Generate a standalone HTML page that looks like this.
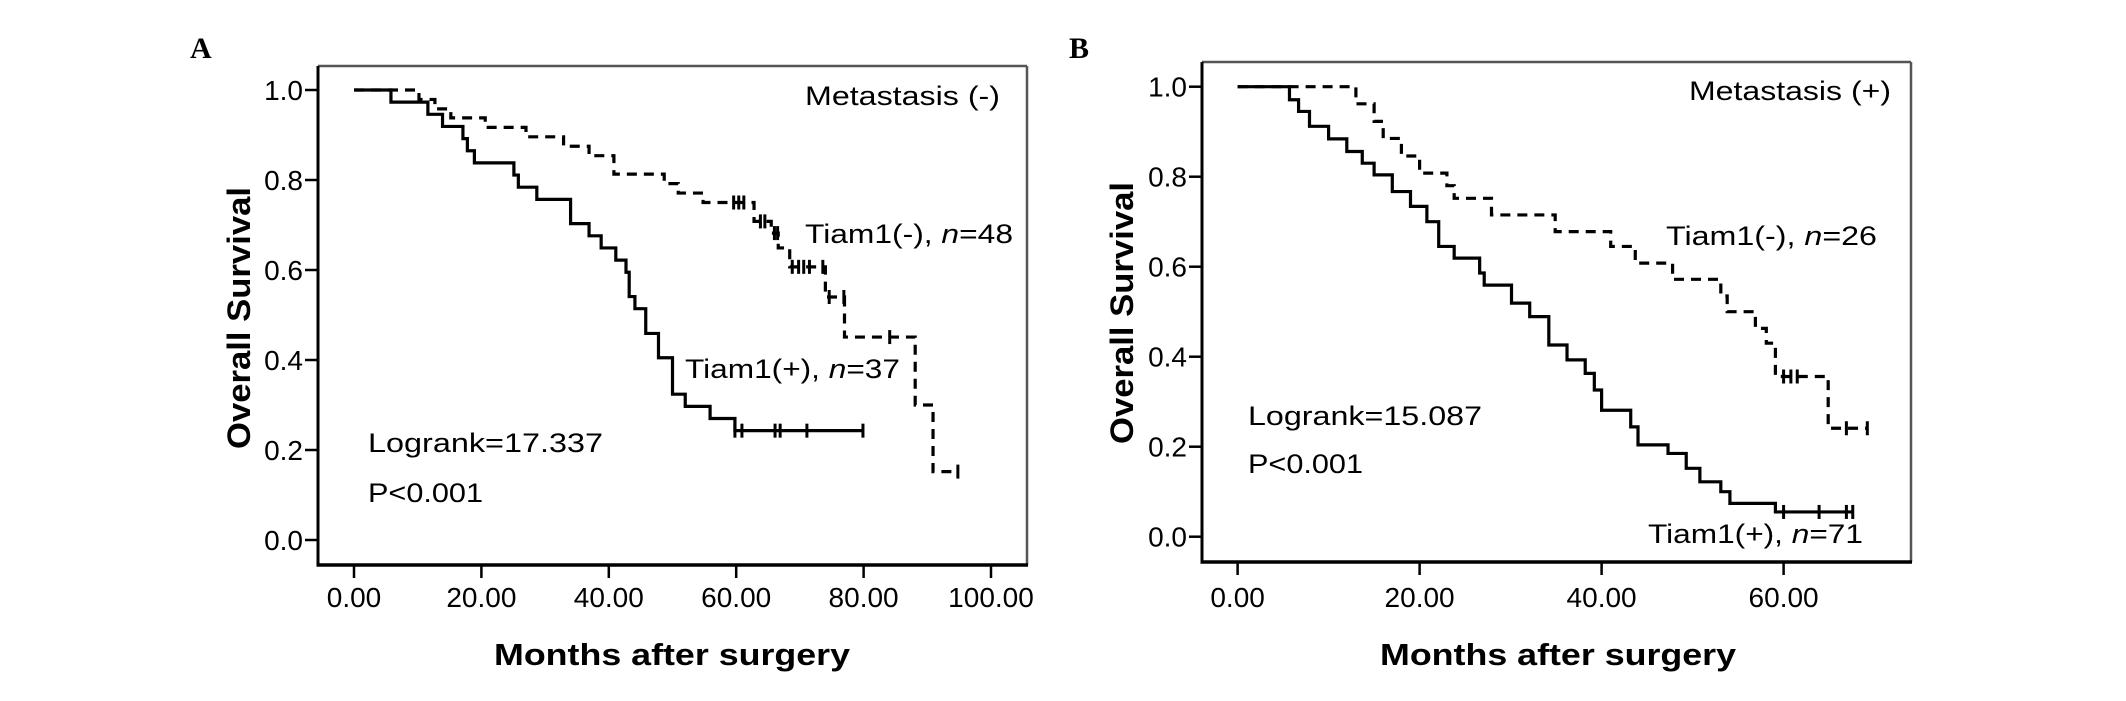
<!DOCTYPE html>
<html><head><meta charset="utf-8"><title>Kaplan-Meier curves</title>
<style>
html,body{margin:0;padding:0;background:#fff;}
svg{display:block;font-family:"Liberation Sans",Arial,sans-serif;}
</style></head>
<body>
<svg id="fig" width="2126" height="701" viewBox="0 0 2126 701" xmlns="http://www.w3.org/2000/svg">
  <rect x="0" y="0" width="2126" height="701" fill="#fff"/>
  <text x="190" y="58" font-family="Liberation Serif, serif" font-weight="bold" font-size="30">A</text>
  <text x="1069" y="58" font-family="Liberation Serif, serif" font-weight="bold" font-size="30">B</text>
  <g id="panelA"></g>
  <g id="panelB"></g>
</svg>
<script>
// ---- Panel A data ----
const aTicksX = [0, 20, 40, 60, 80, 100];
const aTickLabelsX = ["0.00", "20.00", "40.00", "60.00", "80.00", "100.00"];
const ticksY = [0, 0.2, 0.4, 0.6, 0.8, 1.0];
const tickLabelsY = ["0.0", "0.2", "0.4", "0.6", "0.8", "1.0"];
const aPosTimes = [5.8, 11.6, 13.9, 17.1, 17.8, 18.9, 25.1, 25.8, 28.7, 34.0, 36.9, 38.8, 41.1, 42.7, 43.2, 44.1, 45.8, 47.8, 50.0, 52.0, 55.9, 59.8];
const aPosSurv = [0.973, 0.946, 0.919, 0.892, 0.865, 0.838, 0.811, 0.784, 0.757, 0.703, 0.676, 0.649, 0.622, 0.595, 0.541, 0.514, 0.459, 0.405, 0.324, 0.297, 0.270, 0.243];
const aPosCensor = [59.8, 60.9, 66.1, 66.9, 71.1, 79.9];
const aNegTimes = [10.2, 12.7, 15.2, 20.6, 27.0, 32.9, 36.9, 40.8, 48.7, 50.9, 54.8, 62.8, 65.5, 66.6, 68.4, 74.0, 77.0, 88.1, 90.9];
const aNegSurv = [0.979, 0.958, 0.938, 0.917, 0.896, 0.875, 0.854, 0.813, 0.792, 0.771, 0.750, 0.708, 0.682, 0.649, 0.607, 0.540, 0.451, 0.300, 0.152];
const aNegCensor = [59.6, 60.4, 61.2, 63.8, 64.5, 66.0, 66.5, 68.8, 69.8, 70.6, 71.5, 73.6, 74.6, 76.9, 84.1, 94.8];
// ---- Panel B data ----
const bTicksX = [0, 20, 40, 60];
const bTickLabelsX = ["0.00", "20.00", "40.00", "60.00"];
const bPosTimes = [5.7, 6.7, 7.9, 10.0, 12.0, 13.7, 15.0, 17.0, 19.0, 20.8, 22.1, 23.8, 26.6, 27.1, 30.1, 32.1, 34.2, 36.2, 38.2, 39.2, 40.0, 43.2, 44.0, 47.3, 49.3, 50.8, 53.1, 54.1, 59.1];
const bPosSurv = [0.971, 0.945, 0.912, 0.884, 0.856, 0.830, 0.804, 0.767, 0.734, 0.700, 0.645, 0.619, 0.586, 0.559, 0.519, 0.489, 0.426, 0.393, 0.363, 0.326, 0.281, 0.244, 0.204, 0.185, 0.152, 0.122, 0.100, 0.074, 0.055];
const bPosCensor = [60.0, 63.9, 66.9, 67.6];
const bNegTimes = [13.0, 15.0, 16.0, 18.0, 20.0, 23.0, 23.8, 27.9, 34.9, 41.0, 43.7, 47.8, 53.1, 53.8, 56.9, 58.1, 59.1, 64.9];
const bNegSurv = [0.962, 0.923, 0.885, 0.846, 0.808, 0.780, 0.752, 0.715, 0.678, 0.645, 0.608, 0.572, 0.535, 0.500, 0.463, 0.430, 0.356, 0.241];
const bNegCensor = [60.0, 60.8, 61.5, 66.9, 69.2];

const NS = "http://www.w3.org/2000/svg";
function mk(parent, tag, attrs, text) {
  const e = document.createElementNS(NS, tag);
  for (const k in attrs) e.setAttribute(k, attrs[k]);
  if (text !== undefined) e.textContent = text;
  parent.appendChild(e);
  return e;
}
function survFn(times, surv, t) {
  let s = 1;
  for (let i = 0; i < times.length; i++) if (times[i] <= t) s = surv[i];
  return s;
}
function drawCurve(g, xs, ys, times, surv, censor, dashed, name) {
  const endT = Math.max(times[times.length - 1], censor.length ? censor[censor.length - 1] : 0);
  let d = "M" + xs(0) + "," + ys(1);
  for (let i = 0; i < times.length; i++) {
    d += " H" + xs(times[i]) + " V" + ys(surv[i]);
  }
  d += " H" + xs(endT);
  const p = mk(g, "path", {d: d, fill: "none", stroke: "#000", "stroke-width": 3.2});
  if (dashed) p.setAttribute("stroke-dasharray", "10 7");
  
  
  censor.forEach(function (c) {
    const yy = ys(survFn(times, surv, c));
    const m = mk(g, "line", {x1: xs(c), x2: xs(c), y1: yy - 7, y2: yy + 7, stroke: "#000", "stroke-width": 3});
    
    
  });
}
function drawPanel(cfg) {
  const g = document.getElementById(cfg.id);
  const xs = function (v) { return cfg.x0 + v * cfg.xk; };
  const ys = function (v) { return cfg.y0 - v * cfg.yk; };
  // frame
  const top = mk(g, "line", {x1: cfg.L, x2: cfg.R, y1: cfg.T, y2: cfg.T, stroke: "#555", "stroke-width": 2.5});
  
  
  const right = mk(g, "line", {x1: cfg.R, x2: cfg.R, y1: cfg.T, y2: cfg.B, stroke: "#555", "stroke-width": 2.5});
  
  
  const yax = mk(g, "line", {x1: cfg.L, x2: cfg.L, y1: cfg.T, y2: cfg.B + 1.5, stroke: "#000", "stroke-width": 3});
  
  
  const xax = mk(g, "line", {x1: cfg.L - 1.5, x2: cfg.R + 1, y1: cfg.B, y2: cfg.B, stroke: "#000", "stroke-width": 3.5});
  
  
  // y ticks
  ticksY.forEach(function (v, i) {
    const t = mk(g, "line", {x1: cfg.L - 13, x2: cfg.L, y1: ys(v), y2: ys(v), stroke: "#000", "stroke-width": 2.5});
    
    
    const l = mk(g, "text", {x: cfg.L - 15, y: ys(v) + 10, "text-anchor": "end", "font-size": 28}, tickLabelsY[i]);
    
    
  });
  cfg.ticksX.forEach(function (v, i) {
    const t = mk(g, "line", {x1: xs(v), x2: xs(v), y1: cfg.B, y2: cfg.B + 13, stroke: "#000", "stroke-width": 2.5});
    
    
    const l = mk(g, "text", {x: xs(v), y: 607, "text-anchor": "middle", "font-size": 28}, cfg.tickLabelsX[i]);
    
    
  });
  const yt = mk(g, "text", {x: 0, y: 0, "text-anchor": "middle", "font-size": 32, "font-weight": "bold", textLength: 262, lengthAdjust: "spacingAndGlyphs", transform: "translate(" + cfg.ytx + "," + cfg.yty + ") rotate(-90)"}, "Overall Survival");
  
  
  const xt = mk(g, "text", {x: cfg.xtx, y: 665, "text-anchor": "middle", "font-size": 31, "font-weight": "bold", textLength: 356, lengthAdjust: "spacingAndGlyphs"}, "Months after surgery");
  
  
  cfg.texts.forEach(function (t) {
    const e = mk(g, "text", {x: t[0], y: t[1], "font-size": 27, textLength: t[2], lengthAdjust: "spacingAndGlyphs"});
    if (t[4]) {
      e.appendChild(document.createTextNode(t[3]));
      const s = document.createElementNS(NS, "tspan");
      s.setAttribute("font-style", "italic");
      s.textContent = "n";
      e.appendChild(s);
      e.appendChild(document.createTextNode(t[4]));
    } else {
      e.textContent = t[3];
    }
    
    
  });
  drawCurve(g, xs, ys, cfg.posT, cfg.posS, cfg.posC, false, "tiam1-positive");
  drawCurve(g, xs, ys, cfg.negT, cfg.negS, cfg.negC, true, "tiam1-negative");
}
drawPanel({id: "panelA", L: 318, R: 1027, T: 66, B: 565, x0: 354, xk: 6.37, y0: 540, yk: 450,
  ticksX: aTicksX, tickLabelsX: aTickLabelsX, ytx: 250, yty: 318, xtx: 672,
  posT: aPosTimes, posS: aPosSurv, posC: aPosCensor, negT: aNegTimes, negS: aNegSurv, negC: aNegCensor,
  texts: [[805, 105, 195, "Metastasis (-)", null, "metastasis-label"],
          [805, 243, 208, "Tiam1(-), ", "=48", "legend-tiam1-negative"],
          [685, 378, 215, "Tiam1(+), ", "=37", "legend-tiam1-positive"],
          [368, 452, 235, "Logrank=17.337", null, "logrank-stat"],
          [368, 502, 115, "P<0.001", null, "p-value"]]});
drawPanel({id: "panelB", L: 1202, R: 1911, T: 62, B: 562, x0: 1237.6, xk: 9.1, y0: 536.7, yk: 450,
  ticksX: bTicksX, tickLabelsX: bTickLabelsX, ytx: 1133, yty: 313, xtx: 1558,
  posT: bPosTimes, posS: bPosSurv, posC: bPosCensor, negT: bNegTimes, negS: bNegSurv, negC: bNegCensor,
  texts: [[1689, 100, 202, "Metastasis (+)", null, "metastasis-label"],
          [1666, 245, 211, "Tiam1(-), ", "=26", "legend-tiam1-negative"],
          [1648, 543, 215, "Tiam1(+), ", "=71", "legend-tiam1-positive"],
          [1248, 425, 234, "Logrank=15.087", null, "logrank-stat"],
          [1248, 473, 115, "P<0.001", null, "p-value"]]});
</script>
</body></html>
